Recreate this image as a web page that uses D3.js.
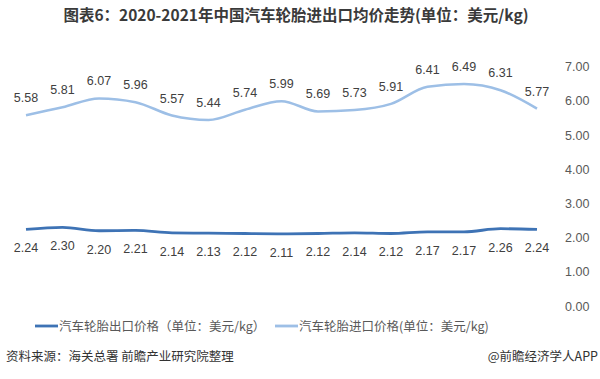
<!DOCTYPE html>
<html><head><meta charset="utf-8">
<script src="https://cdn.jsdelivr.net/npm/d3@7"></script>
<style>body{margin:0;background:#fff}svg{display:block}</style>
</head><body>
<svg id="c" width="600" height="379"></svg>
<script>
const titleText = "图表6：2020-2021年中国汽车轮胎进出口均价走势(单位：美元/kg)";
const categories = d3.range(1, 16).map(String);
const exportPrices = [2.24, 2.30, 2.20, 2.21, 2.14, 2.13, 2.12, 2.11, 2.12, 2.14, 2.12, 2.17, 2.17, 2.26, 2.24];
const importPrices = [5.58, 5.81, 6.07, 5.96, 5.57, 5.44, 5.74, 5.99, 5.69, 5.73, 5.91, 6.41, 6.49, 6.31, 5.77];
const yTicks = [0, 1, 2, 3, 4, 5, 6, 7];
const seriesNames = ["汽车轮胎出口价格（单位：美元/kg）", "汽车轮胎进口价格(单位：美元/kg)"];
const sourceText = "资料来源：海关总署 前瞻产业研究院整理";
const creditText = "@前瞻经济学人APP";

const svg = d3.select("#c");
const font = "'Noto Sans CJK SC', 'Microsoft YaHei', sans-serif";

svg.append("text").attr("x", 296).attr("y", 21).attr("text-anchor", "middle")
  .attr("font-family", font).attr("font-weight", "bold").attr("font-size", 15.5)
  .attr("fill", "#3a3a3a").text(titleText);

const x = d3.scalePoint().domain(categories).range([26, 537]);
const y = d3.scaleLinear().domain([0, 7]).range([306, 66.6]);

// right axis
const axis = d3.axisRight(y).tickValues(yTicks).tickFormat(d3.format(".2f")).tickSize(0).tickPadding(0);
const ag = svg.append("g").attr("transform", "translate(565,0)").call(axis);
ag.select(".domain").remove();
ag.selectAll("text").attr("font-family", "'Liberation Sans', Arial, sans-serif").attr("font-size", 12.5).attr("fill", "#595959");

const line = d3.line().x((d, i) => x(categories[i])).y(d => y(d)).curve(d3.curveMonotoneX);

svg.append("path").datum(importPrices).attr("d", line).attr("fill", "none")
  .attr("stroke", "#9dbfe6").attr("stroke-width", 2.5);
svg.append("path").datum(exportPrices).attr("d", line).attr("fill", "none")
  .attr("stroke", "#3e73b5").attr("stroke-width", 2.8);

const lblFont = "'Liberation Sans', Arial, sans-serif";
svg.append("g").selectAll("text").data(importPrices).join("text")
  .attr("x", (d, i) => x(categories[i])).attr("y", d => y(d) - 13)
  .attr("text-anchor", "middle").attr("font-family", lblFont).attr("font-size", 12.5)
  .attr("fill", "#404040").text(d => d.toFixed(2));
svg.append("g").selectAll("text").data(exportPrices).join("text")
  .attr("x", (d, i) => x(categories[i])).attr("y", d => y(d) + 23)
  .attr("text-anchor", "middle").attr("font-family", lblFont).attr("font-size", 12.5)
  .attr("fill", "#404040").text(d => d.toFixed(2));

// legend
const legend = [
  {name: seriesNames[0], color: "#3e73b5", x: 35},
  {name: seriesNames[1], color: "#9dbfe6", x: 275}
];
const lg = svg.append("g").selectAll("g").data(legend).join("g")
  .attr("transform", d => `translate(${d.x},326)`);
lg.append("line").attr("x1", 0).attr("x2", 23).attr("y1", 0).attr("y2", 0)
  .attr("stroke", d => d.color).attr("stroke-width", 2.8);
lg.append("text").attr("x", 24).attr("y", 5).attr("font-family", font).attr("font-size", 12.5)
  .attr("fill", "#595959").text(d => d.name);

svg.append("text").attr("x", 6).attr("y", 361).attr("font-family", font).attr("font-size", 12.5)
  .attr("fill", "#333").text(sourceText);
svg.append("text").attr("x", 598).attr("y", 361).attr("text-anchor", "end").attr("font-family", font).attr("font-size", 12.5)
  .attr("fill", "#333").text(creditText);
</script>
</body></html>
